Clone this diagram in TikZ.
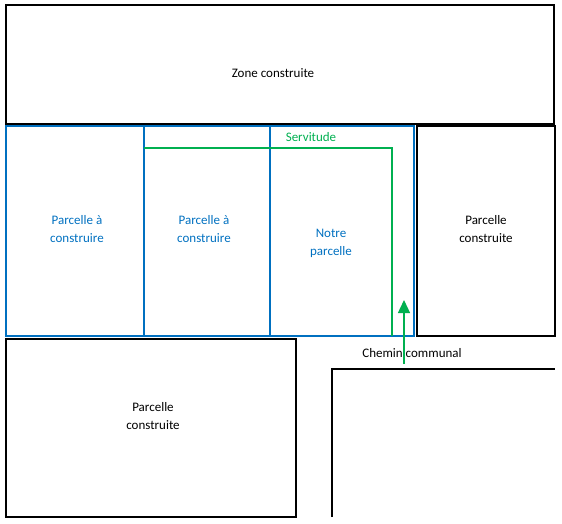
\documentclass[tikz,border=0pt]{standalone}
\usepackage{fontspec}
\setmainfont{Carlito}
\usetikzlibrary{arrows.meta}
\definecolor{planLotColor}{RGB}{0,112,192}
\definecolor{planPathColor}{RGB}{0,176,80}
\begin{document}
\begin{tikzpicture}
% Site plan drawn on a pixel grid
\def\pxsz{1pt}
\providecommand{\planEdgeColor}{black}
\providecommand{\planEdgeWidth}{1.6pt}
\providecommand{\planLotWidth}{1.8pt}
\begin{scope}[x=\pxsz, y=-\pxsz, line join=miter,
  every node/.style={align=center, font=\fontsize{13}{18}\selectfont}]
  \useasboundingbox (0,0) rectangle (562,524);
  % Built parcels and zone
  \begin{scope}[draw=\planEdgeColor, line width=\planEdgeWidth]
    \draw (6,5) rectangle (554,124);
    \draw (417,126) rectangle (555,336);
    \draw (6,339) rectangle (296,517);
    \draw (332,517) -- (332,369) -- (555,369);
  \end{scope}
  % Parcels to build
  \begin{scope}[draw=planLotColor, line width=\planLotWidth]
    \draw (6,126) rectangle (414,336);
    \draw (144,126) -- (144,336);
    \draw (270,126) -- (270,336);
  \end{scope}
  % Easement
  \begin{scope}[draw=planPathColor, line width=1.3pt]
    \draw (144,148) -- (392,148) -- (392,336);
    \coordinate (pathIn) at (404,364);
    \coordinate (pathOut) at (404,300);
    \draw[-{Triangle[length=13pt,width=12pt]}] (pathIn) -- (pathOut);
  \end{scope}
  % Labels
  \node (zone) at (273,73) {Zone construite};
  \node[text=planPathColor] (servitude) at (311,137) {Servitude};
  \node[text=planLotColor] (lotA) at (77,229) {Parcelle à\\construire};
  \node[text=planLotColor] (lotB) at (204,229) {Parcelle à\\construire};
  \node[text=planLotColor] (ourLot) at (331,243) {Notre\\parcelle};
  \node (builtRight) at (486,229) {Parcelle\\construite};
  \node (builtLeft) at (153,416) {Parcelle\\construite};
  \node (chemin) at (412,353) {Chemin communal};
\end{scope}
\end{tikzpicture}
\end{document}
